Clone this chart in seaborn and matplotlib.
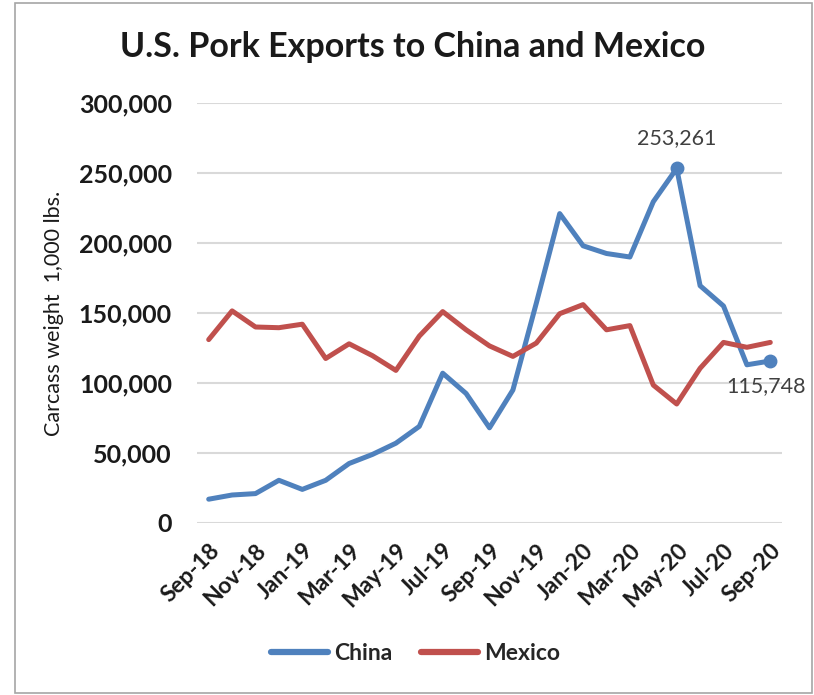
import matplotlib
matplotlib.use("Agg")
import matplotlib.pyplot as plt
import matplotlib.transforms as mtransforms
import seaborn as sns
import pandas as pd
import numpy as np
from matplotlib.patches import Rectangle
from matplotlib.ticker import FuncFormatter, MultipleLocator

months = ["Sep-18", "Oct-18", "Nov-18", "Dec-18", "Jan-19", "Feb-19", "Mar-19",
          "Apr-19", "May-19", "Jun-19", "Jul-19", "Aug-19", "Sep-19", "Oct-19",
          "Nov-19", "Dec-19", "Jan-20", "Feb-20", "Mar-20", "Apr-20", "May-20",
          "Jun-20", "Jul-20", "Aug-20", "Sep-20"]
china = [17000, 20000, 21000, 30500, 24000, 30500, 42500, 49000, 57000, 69000,
         107000, 92500, 68000, 95000, 157000, 221000, 198000, 192500, 190000,
         229500, 253261, 169500, 155000, 113000, 115748]
mexico = [131000, 151500, 140000, 139500, 142000, 117500, 128000, 119500, 109000,
          133500, 151000, 138000, 126500, 119000, 128500, 149500, 156000, 138000,
          141000, 98500, 85000, 110500, 129000, 125500, 129000]
series_names = ["China", "Mexico"]
colors = {"China": "#4F81BD", "Mexico": "#C0504D"}
title = "U.S. Pork Exports to China and Mexico"
ylabel = "Carcass weight  1,000 lbs."

df = pd.DataFrame({
    "idx": list(range(len(months))) * 2,
    "value": china + mexico,
    "country": ["China"] * len(china) + ["Mexico"] * len(mexico),
})

sns.set_style("white")
plt.rcParams["font.family"] = ["Lato", "DejaVu Sans"]

fig = plt.figure(figsize=(8.14, 6.95), dpi=100)
ax = fig.add_axes([197/814, 1-523/695, (782-197)/814, (523-103)/695])

sns.lineplot(data=df, x="idx", y="value", hue="country", palette=colors,
             linewidth=3.6, ax=ax, legend=False, solid_capstyle="round")

# highlighted points
ci = df[df.country == "China"].reset_index(drop=True)
for i in [20, 24]:
    ax.plot(ci.idx[i], ci.value[i], "o", color=colors["China"], markersize=9, zorder=5)
ax.annotate(f"{china[20]:,}", (20, china[20]), xytext=(0, 15), textcoords="offset points",
            ha="center", va="bottom", fontsize=15.5, color="#404040")
ax.annotate(f"{china[24]:,}", (24, china[24]), xytext=(-3, -11), textcoords="offset points",
            ha="center", va="top", fontsize=15.5, color="#404040")

ax.set_xlim(-0.5, 24.5)
ax.set_ylim(0, 300000)
ax.yaxis.set_major_locator(MultipleLocator(50000))
ax.yaxis.set_major_formatter(FuncFormatter(lambda v, p: f"{int(v):,}"))
ax.set_xticks(list(range(0, len(months), 2)))
ax.set_xticklabels(months[::2], rotation=45, ha="right", rotation_mode="anchor",
                   fontsize=16.5, fontweight="bold", color="#1a1a1a")
shift = mtransforms.ScaledTranslation(6/100, 0, fig.dpi_scale_trans)
for lbl in ax.get_xticklabels():
    lbl.set_transform(lbl.get_transform() + shift)
ax.tick_params(axis="x", length=0, pad=12)
ax.tick_params(axis="y", length=0, pad=18, labelsize=18, labelcolor="#1a1a1a")
for lbl in ax.get_yticklabels():
    lbl.set_fontweight("bold")
ax.grid(axis="y", color="#D9D9D9", linewidth=1.5)
ax.set_axisbelow(True)
for s in ax.spines.values():
    s.set_visible(False)
ax.set_xlabel("")
ax.set_ylabel(ylabel, fontsize=15.5, color="#1a1a1a")
ax.yaxis.set_label_coords(-(197-64)/585, 0.5)

fig.text(413/814, 1-47/695, title, ha="center", va="center", fontsize=24.5,
         fontweight="bold", color="#1a1a1a")

handles = [plt.Line2D([], [], color=colors[n], linewidth=4.5, solid_capstyle="round") for n in series_names]
fig.legend(handles, series_names, loc="center", bbox_to_anchor=(415.5/814, 1-654/695),
           ncol=2, frameon=False, handlelength=2.5, columnspacing=1.25,
           handletextpad=0.25, prop={"weight": "bold", "size": 16.5})

fig.patches.append(Rectangle((15/814, 1-693/695), (812-15)/814, (693-3)/695,
                             transform=fig.transFigure, fill=False,
                             edgecolor="#A6A6A6", linewidth=1.2))

fig.savefig("out.png", dpi=100, facecolor="white")
